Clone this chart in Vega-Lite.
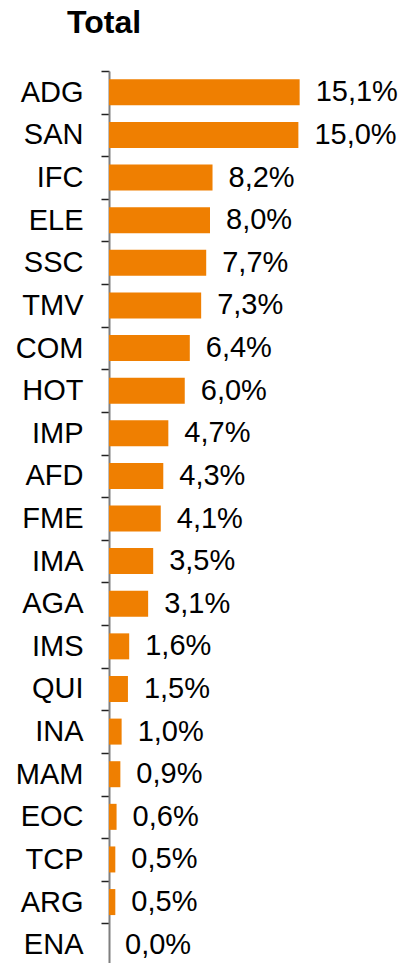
{
  "$schema": "https://vega.github.io/schema/vega-lite/v6.json",
  "autosize": {"type": "none"},
  "width": 202,
  "height": 895,
  "padding": {"left": 109, "top": 71, "right": 92, "bottom": 0},
  "config": {
    "view": {"stroke": null},
    "font": "Liberation Sans",
    "locale": {"number": {"decimal": ",", "thousands": ".", "grouping": [3], "currency": ["", " €"]}}
  },
  "title": {
    "text": "Total",
    "anchor": "start",
    "frame": "group",
    "fontSize": 32,
    "fontWeight": "bold",
    "font": "Liberation Sans",
    "color": "#000000",
    "baseline": "alphabetic",
    "dx": -42,
    "dy": 8,
    "offset": 0
  },
  "data": {
    "values": [
      {"cat": "ADG", "value": 0.151},
      {"cat": "SAN", "value": 0.150},
      {"cat": "IFC", "value": 0.082},
      {"cat": "ELE", "value": 0.080},
      {"cat": "SSC", "value": 0.077},
      {"cat": "TMV", "value": 0.073},
      {"cat": "COM", "value": 0.064},
      {"cat": "HOT", "value": 0.060},
      {"cat": "IMP", "value": 0.047},
      {"cat": "AFD", "value": 0.043},
      {"cat": "FME", "value": 0.041},
      {"cat": "IMA", "value": 0.035},
      {"cat": "AGA", "value": 0.031},
      {"cat": "IMS", "value": 0.016},
      {"cat": "QUI", "value": 0.015},
      {"cat": "INA", "value": 0.010},
      {"cat": "MAM", "value": 0.009},
      {"cat": "EOC", "value": 0.006},
      {"cat": "TCP", "value": 0.005},
      {"cat": "ARG", "value": 0.005},
      {"cat": "ENA", "value": 0.000}
    ]
  },
  "encoding": {
    "y": {
      "field": "cat",
      "type": "nominal",
      "sort": null,
      "scale": {"paddingInner": 0, "paddingOuter": 0},
      "axis": {
        "title": null,
        "labelFontSize": 29,
        "labelColor": "#000000",
        "labelPadding": 18,
        "tickSize": 8,
        "tickColor": "#222222",
        "tickWidth": 1.5,
        "tickBand": "extent",
        "domainColor": "#7f7f7f",
        "domainWidth": 2,
        "grid": false
      }
    }
  },
  "layer": [
    {
      "mark": {"type": "bar", "color": "#EF7F01", "height": {"band": 0.61}},
      "encoding": {
        "x": {"field": "value", "type": "quantitative", "scale": {"domain": [0, 0.16]}, "axis": null}
      }
    },
    {
      "mark": {"type": "text", "align": "left", "baseline": "middle", "dx": 16, "fontSize": 29, "color": "#000000"},
      "encoding": {
        "x": {"field": "value", "type": "quantitative", "scale": {"domain": [0, 0.16]}, "axis": null},
        "text": {"field": "value", "type": "quantitative", "format": ".1%"}
      }
    }
  ]
}
